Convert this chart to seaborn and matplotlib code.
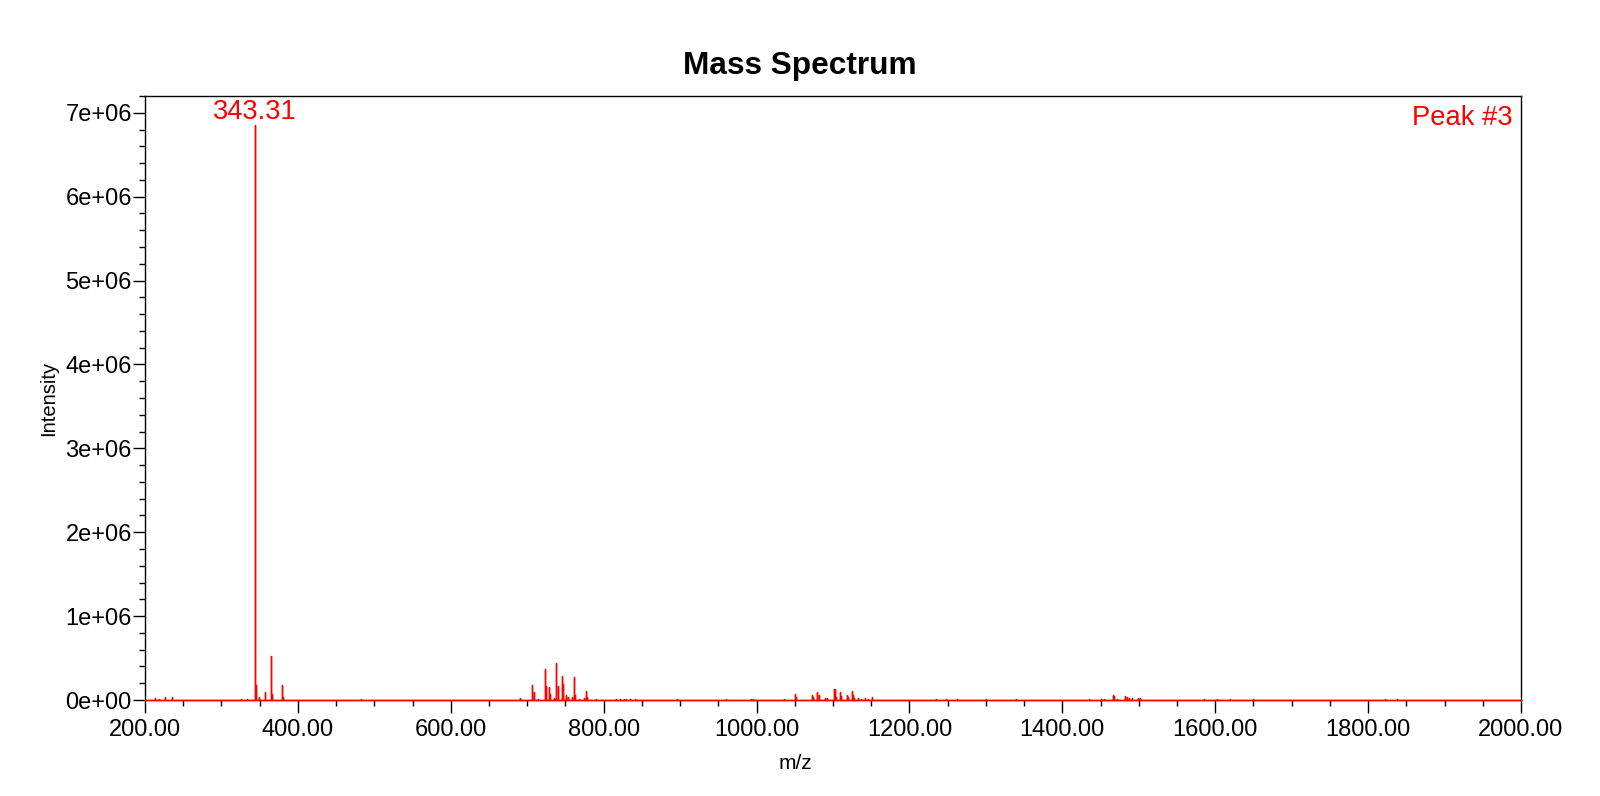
import numpy as np
import pandas as pd
import matplotlib
matplotlib.use("Agg")
import matplotlib.pyplot as plt
import seaborn as sns
from matplotlib.ticker import MultipleLocator, FuncFormatter

# peak list (m/z, intensity)
peak_mz = [213.0, 218.7, 226.0, 234.8, 325.0, 333.0,
           343.31, 344.3, 345.3, 349.0, 356.9, 365.1, 366.3, 379.8, 381.0,
           482.7, 690.6,
           706.3, 708.5, 713.7, 723.3, 724.6, 729.0, 729.8, 735.5, 738.1,
           740.2, 745.0, 746.8, 751.2, 753.8, 759.0, 761.2, 762.5, 767.3,
           774.8, 776.5, 778.2, 789.5,
           816.0, 821.8, 826.6, 829.7, 834.0, 840.5, 895.8, 959.5, 993.0, 995.2,
           1035.7, 1050.6, 1051.9, 1072.3, 1073.6, 1079.7, 1081.4, 1089.8,
           1092.8, 1101.0, 1102.9, 1104.6, 1108.9, 1110.2, 1118.0, 1119.4,
           1124.6, 1126.0, 1128.1, 1132.9, 1136.4, 1141.6, 1145.5, 1151.2,
           1235.0, 1248.0, 1262.0, 1300.0, 1340.0,
           1435.0, 1450.6, 1455.0, 1465.7, 1467.6, 1471.0, 1482.4, 1484.1,
           1487.6, 1490.7, 1499.0, 1501.6,
           1585.6, 1603.0, 1619.0, 1650.0, 1822.0, 1838.0]
peak_int = [0.02e6, 0.015e6, 0.035e6, 0.03e6, 0.01e6, 0.012e6,
            6.85e6, 1.30e6, 0.18e6, 0.04e6, 0.10e6, 0.53e6, 0.07e6, 0.18e6, 0.03e6,
            0.01e6, 0.02e6,
            0.18e6, 0.10e6, 0.01e6, 0.37e6, 0.17e6, 0.15e6, 0.07e6, 0.02e6, 0.44e6,
            0.17e6, 0.29e6, 0.19e6, 0.06e6, 0.03e6, 0.03e6, 0.27e6, 0.06e6, 0.015e6,
            0.02e6, 0.11e6, 0.03e6, 0.01e6,
            0.01e6, 0.01e6, 0.012e6, 0.01e6, 0.012e6, 0.01e6, 0.008e6, 0.008e6, 0.01e6, 0.01e6,
            0.015e6, 0.07e6, 0.035e6, 0.06e6, 0.035e6, 0.09e6, 0.06e6, 0.025e6,
            0.025e6, 0.135e6, 0.13e6, 0.04e6, 0.10e6, 0.045e6, 0.055e6, 0.04e6,
            0.11e6, 0.055e6, 0.02e6, 0.02e6, 0.015e6, 0.02e6, 0.015e6, 0.03e6,
            0.01e6, 0.01e6, 0.012e6, 0.008e6, 0.008e6,
            0.01e6, 0.012e6, 0.012e6, 0.065e6, 0.045e6, 0.012e6, 0.05e6, 0.03e6,
            0.025e6, 0.02e6, 0.028e6, 0.02e6,
            0.01e6, 0.008e6, 0.012e6, 0.008e6, 0.01e6, 0.008e6]

x_range = [200, 2000]
base_peak_label = "343.31"
peak_title = "Peak #3"

# stick spectrum as one polyline: baseline -> top -> baseline for each peak
rows = [(x_range[0], 0.0)]
for m, h in sorted(zip(peak_mz, peak_int)):
    rows += [(m, 0.0), (m, h), (m, 0.0)]
rows.append((x_range[1], 0.0))
spec = pd.DataFrame(rows, columns=["mz", "intensity"])

sns.set_style("white")
plt.rcParams["font.family"] = ["Liberation Sans", "DejaVu Sans"]
plt.rcParams.update({"text.color": "black", "axes.labelcolor": "black",
                     "xtick.color": "black", "ytick.color": "black"})

fig = plt.figure(figsize=(16, 7.96), dpi=100)
ax = fig.add_axes([0.0906, 0.1206, 0.86, 0.7588])

sns.lineplot(data=spec, x="mz", y="intensity", sort=False, estimator=None,
             color="#ff0000", lw=1.0, ax=ax, clip_on=False, zorder=5)

ax.set_xlim(*x_range)
ax.set_ylim(0, 7.2e6)
ax.xaxis.set_major_locator(MultipleLocator(200))
ax.xaxis.set_minor_locator(MultipleLocator(50))
ax.yaxis.set_major_locator(MultipleLocator(1e6))
ax.yaxis.set_minor_locator(MultipleLocator(2e5))
ax.xaxis.set_major_formatter(FuncFormatter(lambda v, p: f"{v:.2f}"))
ax.yaxis.set_major_formatter(FuncFormatter(lambda v, p: f"{v:.0e}"))
ax.tick_params(axis="both", which="major", direction="out", length=9,
               width=1.0, color="black")
ax.tick_params(axis="both", which="minor", direction="out", length=4.5,
               width=1.0, color="black")
ax.tick_params(axis="x", which="major", labelsize=17, pad=5)
ax.tick_params(axis="y", which="major", labelsize=17, pad=0.5)
ax.tick_params(top=False, right=False, which="both")
ax.tick_params(bottom=True, left=True, which="both")
for s in ax.spines.values():
    s.set_color("black")
    s.set_linewidth(1.0)

ax.set_xlabel("m/z", fontsize=15)
ax.set_ylabel("Intensity", fontsize=14.5)
ax.xaxis.set_label_coords(0.473, -0.09)
ax.yaxis.set_label_coords(-0.063, 0.5)

top_i = int(np.argmax(peak_int))
ax.annotate(base_peak_label, xy=(peak_mz[top_i], peak_int[top_i]),
            xytext=(0, 0.5), textcoords="offset points", ha="center", va="bottom",
            color="#ff0000", fontsize=19.7)
ax.text(0.994, 0.985, peak_title, transform=ax.transAxes, ha="right", va="top",
        color="#ff0000", fontsize=19.7)

fig.text(0.5, 1 - 66 / 796, "Mass Spectrum", ha="center", va="center",
         fontsize=22.8, fontweight="bold", color="black")

fig.savefig("out.png", dpi=100)
